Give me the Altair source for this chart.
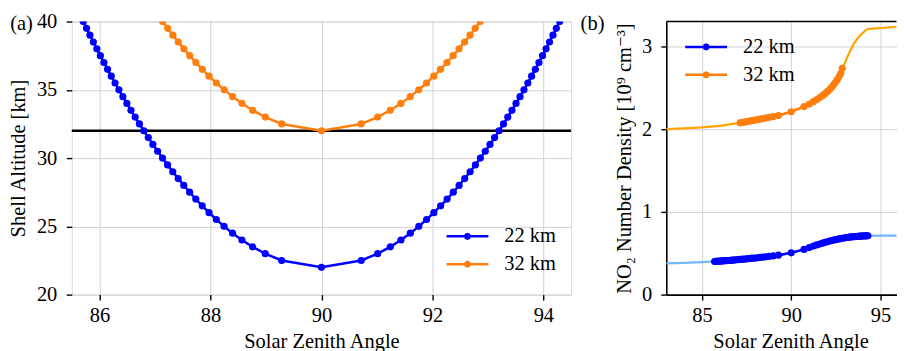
import altair as alt
import pandas as pd

FONT = "Liberation Serif, DejaVu Serif, serif"
FS = 20.5

series_names = ["22 km", "32 km"]
series_colors = ["#0000ff", "#ff7f0e"]
bg_colors = ["#74b6fc", "#ffa500"]
panel_labels = ["(a)", "(b)"]
tangent_altitude = [32]

# Panel (a) and (b): shell crossings for the 22 km tangent ray
blue_sza = [85.707, 85.766, 85.827, 85.889, 85.951, 86.015, 86.080, 86.145, 86.212, 86.280,
            86.350, 86.421, 86.493, 86.567, 86.642, 86.719, 86.798, 86.879, 86.962, 87.047,
            87.135, 87.226, 87.320, 87.418, 87.519, 87.624, 87.735, 87.851, 87.974, 88.105,
            88.245, 88.398, 88.567, 88.759, 88.987, 89.283, 90.000,
            90.717, 91.013, 91.241, 91.433, 91.602, 91.755, 91.895, 92.026, 92.149, 92.265,
            92.376, 92.481, 92.582, 92.680, 92.774, 92.865, 92.953, 93.038, 93.121, 93.202,
            93.281, 93.358, 93.434, 93.507, 93.579, 93.650, 93.720, 93.788, 93.855, 93.920,
            93.985, 94.049, 94.111, 94.173, 94.234, 94.294]
blue_alt = [40.0, 39.5, 39.0, 38.5, 38.0, 37.5, 37.0, 36.5, 36.0, 35.5,
            35.0, 34.5, 34.0, 33.5, 33.0, 32.5, 32.0, 31.5, 31.0, 30.5,
            30.0, 29.5, 29.0, 28.5, 28.0, 27.5, 27.0, 26.5, 26.0, 25.5,
            25.0, 24.5, 24.0, 23.5, 23.0, 22.5, 22.0,
            22.5, 23.0, 23.5, 24.0, 24.5, 25.0, 25.5, 26.0, 26.5, 27.0,
            27.5, 28.0, 28.5, 29.0, 29.5, 30.0, 30.5, 31.0, 31.5, 32.0,
            32.5, 33.0, 33.5, 34.0, 34.5, 35.0, 35.5, 36.0, 36.5, 37.0,
            37.5, 38.0, 38.5, 39.0, 39.5, 40.0]
blue_dens = [0.400, 0.401, 0.402, 0.403, 0.404, 0.405, 0.406, 0.407, 0.408, 0.409,
             0.410, 0.411, 0.412, 0.413, 0.415, 0.416, 0.418, 0.420, 0.421, 0.423,
             0.425, 0.427, 0.428, 0.430, 0.432, 0.435, 0.437, 0.440, 0.442, 0.445,
             0.449, 0.452, 0.457, 0.462, 0.468, 0.477, 0.505,
             0.546, 0.569, 0.586, 0.600, 0.612, 0.622, 0.631, 0.639, 0.647, 0.653,
             0.659, 0.664, 0.669, 0.673, 0.677, 0.681, 0.684, 0.687, 0.690, 0.692,
             0.695, 0.697, 0.698, 0.700, 0.701, 0.702, 0.704, 0.705, 0.706, 0.707,
             0.708, 0.708, 0.709, 0.710, 0.710, 0.711]

# Shell crossings for the 32 km tangent ray
orange_sza = [87.138, 87.228, 87.322, 87.420, 87.521, 87.626, 87.737, 87.853, 87.975, 88.106,
              88.247, 88.399, 88.568, 88.760, 88.988, 89.284, 90.000,
              90.716, 91.012, 91.240, 91.432, 91.601, 91.754, 91.894, 92.025, 92.147, 92.263,
              92.374, 92.480, 92.580, 92.678, 92.772, 92.862]
orange_alt = [40.0, 39.5, 39.0, 38.5, 38.0, 37.5, 37.0, 36.5, 36.0, 35.5,
              35.0, 34.5, 34.0, 33.5, 33.0, 32.5, 32.0,
              32.5, 33.0, 33.5, 34.0, 34.5, 35.0, 35.5, 36.0, 36.5, 37.0,
              37.5, 38.0, 38.5, 39.0, 39.5, 40.0]
orange_dens = [2.076, 2.079, 2.083, 2.087, 2.091, 2.095, 2.099, 2.104, 2.109, 2.114,
               2.120, 2.126, 2.133, 2.141, 2.150, 2.164, 2.210,
               2.272, 2.302, 2.332, 2.357, 2.381, 2.404, 2.428, 2.452, 2.478, 2.505,
               2.535, 2.566, 2.598, 2.632, 2.672, 2.735]

# Background NO2 curves in panel (b)
bg_blue_sza = [83, 84, 85, 86, 87, 88, 89, 89.5, 90, 90.5, 91, 91.5, 92, 92.5, 93, 93.5,
               94, 94.3, 95, 96, 97]
bg_blue_dens = [0.377, 0.383, 0.392, 0.405, 0.421, 0.442, 0.468, 0.484, 0.505, 0.533, 0.568,
                0.605, 0.638, 0.665, 0.686, 0.700, 0.708, 0.711, 0.712, 0.713, 0.714]
bg_orange_sza = [83, 84, 85, 86, 87, 88, 89, 89.5, 90, 90.5, 91, 91.5, 92, 92.5, 92.9, 93.2,
                 93.5, 93.8, 94.0, 94.2, 94.3, 94.6, 95, 95.5, 96, 97]
bg_orange_dens = [2.000, 2.008, 2.020, 2.040, 2.072, 2.110, 2.150, 2.178, 2.210, 2.252, 2.300,
                  2.370, 2.455, 2.575, 2.745, 2.900, 3.030, 3.120, 3.160, 3.200, 3.210, 3.215,
                  3.222, 3.230, 3.238, 3.250]

xa_ticks = [86, 88, 90, 92, 94]
ya_ticks = [20, 25, 30, 35, 40]
xb_ticks = [85, 90, 95]
yb_ticks = [0, 1, 2, 3]

WA, WB, H = 501, 231, 274
LW = 2.5
PT = 52


def oct_path(r):
    a = round(r * 0.7071, 3)
    return f"M{r},0L{a},{a}L0,{r}L{-a},{a}L{-r},0L{-a},{-a}L0,{-r}L{a},{-a}Z"


SYM = "M-2.1,0L2.1,0" + oct_path(0.23) + oct_path(0.09)

dots = pd.DataFrame({
    "sza": blue_sza + orange_sza,
    "alt": blue_alt + orange_alt,
    "dens": blue_dens + orange_dens,
    "series": [series_names[0]] * len(blue_sza) + [series_names[1]] * len(orange_sza),
})
bg = pd.DataFrame({
    "sza": bg_blue_sza + bg_orange_sza,
    "dens": bg_blue_dens + bg_orange_dens,
    "series": [series_names[0]] * len(bg_blue_sza) + [series_names[1]] * len(bg_orange_sza),
})

color_scale = alt.Scale(domain=series_names, range=series_colors)
bg_scale = alt.Scale(domain=series_names, range=bg_colors)


def axis_common(**kw):
    base = dict(
        grid=True, gridColor="#d2d2d2", gridWidth=1,
        ticks=True, tickColor="black", tickSize=5.5, tickWidth=1.4,
        labelFont=FONT, labelFontSize=FS, labelColor="black", labelFlush=False,
        labelOverlap=False, format="d",
        titleFont=FONT, titleFontSize=FS, titleFontWeight="normal", titleColor="black",
        titleAlign="center", titleBaseline="alphabetic",
    )
    base.update(kw)
    return alt.Axis(**base)


def legend(x, y):
    return alt.Legend(
        title=None, orient="none", legendX=x, legendY=y, symbolType=SYM, symbolSize=400,
        symbolStrokeWidth=LW, labelFont=FONT, labelFontSize=FS, labelColor="black",
        labelOffset=25.5, rowPadding=6, padding=0, symbolOffset=0,
    )


# ---------------- panel (a) ----------------
xa = alt.X("sza:Q", scale=alt.Scale(domain=[85.5, 94.5], nice=False, zero=False),
           axis=axis_common(values=xa_ticks, title="Solar Zenith Angle", domain=False,
                            labelBaseline="alphabetic", labelPadding=21,
                            titleX=WA / 2, titleY=53.5))
ya = alt.Y("alt:Q", scale=alt.Scale(domain=[20, 40], nice=False, zero=False),
           axis=axis_common(values=ya_ticks, title="Shell Altitude [km]", domain=False,
                            labelPadding=9.5, titleAngle=270, titleX=-47, titleY=H / 2))

rule_a = alt.Chart(pd.DataFrame({"h": tangent_altitude})).mark_rule(
    color="black", strokeWidth=LW).encode(y=alt.Y("h:Q", scale=alt.Scale(domain=[20, 40])))

line_a = alt.Chart(dots).mark_line(strokeWidth=LW, clip=True).encode(
    x=xa, y=ya, color=alt.Color("series:N", scale=color_scale, legend=legend(385.5, 204)))
pts_a = alt.Chart(dots).mark_point(filled=True, opacity=1, size=PT, clip=True).encode(
    x="sza:Q", y="alt:Q", color=alt.Color("series:N", scale=color_scale, legend=None))
lab_a = alt.Chart(pd.DataFrame({"t": [panel_labels[0]]})).mark_text(
    font=FONT, fontSize=FS, align="center", baseline="alphabetic", color="black").encode(
    text="t:N", x=alt.value(-50.5), y=alt.value(8.5))

panel_a = alt.layer(rule_a, line_a, pts_a, lab_a).properties(width=WA, height=H)

# ---------------- panel (b) ----------------
xb = alt.X("sza:Q", scale=alt.Scale(domain=[83, 95.9], nice=False, zero=False),
           axis=axis_common(values=xb_ticks, title="Solar Zenith Angle", domain=True,
                            domainColor="black", domainWidth=1.6,
                            labelBaseline="alphabetic", labelPadding=21,
                            titleX=124.7, titleY=53.5))
yb = alt.Y("dens:Q", scale=alt.Scale(domain=[0, 3.3], nice=False, zero=False),
           axis=axis_common(values=yb_ticks, title="NO₂ Number Density [10⁹ cm⁻³]",
                            domain=True, domainColor="black", domainWidth=1.6,
                            labelPadding=9, titleAngle=270, titleX=-35.5, titleY=H / 2))

bg_b = alt.Chart(bg).mark_line(strokeWidth=2.2, clip=True).encode(
    x=xb, y=yb, color=alt.Color("series:N", scale=bg_scale, legend=None))
line_b = alt.Chart(dots).mark_line(strokeWidth=LW, clip=True).encode(
    x="sza:Q", y="dens:Q",
    color=alt.Color("series:N", scale=color_scale, legend=legend(28.5, 14)))
pts_b = alt.Chart(dots).mark_point(filled=True, opacity=1, size=PT, clip=True).encode(
    x="sza:Q", y="dens:Q", color=alt.Color("series:N", scale=color_scale, legend=None))
top_b = alt.Chart(pd.DataFrame({"t": [0]})).mark_rule(color="black", strokeWidth=1.6).encode(
    x=alt.value(0), x2=alt.value(WB), y=alt.value(0))
lab_b = alt.Chart(pd.DataFrame({"t": [panel_labels[1]]})).mark_text(
    font=FONT, fontSize=FS, align="center", baseline="alphabetic", color="black").encode(
    text="t:N", x=alt.value(-74), y=alt.value(8.5))

panel_b = alt.layer(bg_b, line_b, pts_b, top_b, lab_b).resolve_scale(color="independent").properties(
    width=WB, height=H, view=alt.ViewBackground(stroke=None))

chart = alt.hconcat(panel_a, panel_b, spacing=7.5).resolve_scale(
    color="independent").resolve_legend(color="independent").properties(
    padding={"left": 0, "top": 2, "right": 0, "bottom": 0}
).configure_view(stroke="black", strokeWidth=1.6).configure(background="white")

chart.save("out.html", embed_options={"renderer": "svg", "actions": False})
